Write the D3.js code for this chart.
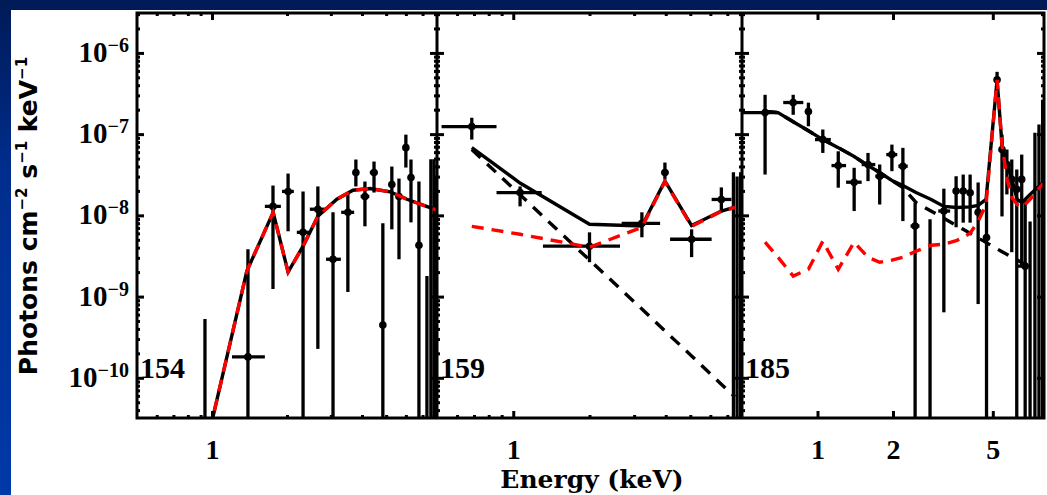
<!DOCTYPE html>
<html>
<head>
<meta charset="utf-8">
<script src="https://cdn.jsdelivr.net/npm/d3@7"></script>
<style>
  body { margin: 0; overflow: hidden; }
</style>
</head>
<body>
<svg width="1047" height="495"></svg>
<script>
// rows: [energy, eLo, eHi, flux, fluxLo, fluxHi]  (null = not drawn, 1e-12 = below the plot)
var spec154 = [
  [0.937, null, null, null, 1e-12, 5.3e-10],
  [1.394, 1.203, 1.63, 1.81e-10, 1e-12, 3.83e-9],
  [1.757, 1.63, 1.89, 1.29e-8, 1.24e-9, 2.33e-8],
  [2.02, 1.91, 2.13, 1.97e-8, 6.37e-9, 3.27e-8],
  [2.32, 2.19, 2.47, 6.18e-9, 1e-12, 1.97e-8],
  [2.66, 2.47, 2.87, 1.19e-8, 2.27e-10, 2.27e-8],
  [3.06, 2.87, 3.29, 2.88e-9, 1e-12, 1.09e-8],
  [3.51, 3.30, 3.72, 1.09e-8, 1.14e-9, 1.91e-8],
  [3.78, 3.70, 3.88, 3.37e-8, 2.27e-8, 4.87e-8],
  [4.11, 3.95, 4.28, 1.71e-8, 7.33e-9, 2.61e-8],
  [4.47, 4.30, 4.62, 3.37e-8, 1.91e-8, 4.6e-8],
  [4.85, null, null, 4.47e-10, 1e-12, 7.98e-9],
  [5.27, 5.12, 5.42, 2.40e-8, 6.73e-9, 3.99e-8],
  [5.63, 5.50, 5.80, 1.71e-8, 2.88e-9, 2.84e-8],
  [6.00, 5.90, 6.12, 6.82e-8, 3.88e-8, 9.86e-8],
  [6.29, 6.15, 6.45, 2.92e-8, 8.2e-9, 4.87e-8],
  [6.77, 6.60, 6.95, 4.28e-9, 1e-12, 2.61e-8],
  [7.29, null, null, null, 1e-12, 1.79e-9],
  [7.56, null, null, null, 1e-12, 4.9e-8],
  [7.78, null, null, null, 1e-12, 4.9e-8],
  [7.95, null, null, null, 1e-12, 3.0e-8]
];

var spec159 = [
  [0.686, 0.521, 0.859, 1.24e-7, 8.57e-8, 1.59e-7],
  [1.064, 0.859, 1.295, 1.91e-8, 1.29e-8, 2.27e-8],
  [2.0, 1.31, 2.64, 4.17e-9, 2.65e-9, 6.18e-9],
  [3.22, 2.68, 3.8, 7.98e-9, 5.37e-9, 1.09e-8],
  [3.97, 3.85, 4.1, 3.37e-8, 2.77e-8, 4.47e-8],
  [5.06, 4.16, 6.07, 5.08e-9, 3.06e-9, 6.73e-9],
  [6.63, 6.07, 7.27, 1.57e-8, 1.09e-8, 2.21e-8],
  [7.4, null, null, null, 1e-12, 3.4e-8],
  [7.65, null, null, null, 1e-12, 3.0e-8],
  [7.9, null, null, null, 1e-12, 3.4e-8]
];

var spec185 = [
  [0.618, 0.5, 0.696, 1.84e-7, 3.18e-8, 3.05e-7],
  [0.80, 0.73, 0.878, 2.45e-7, 1.73e-7, 3.05e-7],
  [0.92, 0.90, 0.94, 1.9e-7, 1.25e-7, 2.44e-7],
  [1.05, 0.977, 1.13, 8.57e-8, 5.87e-8, 1.14e-7],
  [1.21, 1.137, 1.30, 4.1e-8, 2.19e-8, 6.15e-8],
  [1.40, 1.30, 1.50, 2.56e-8, 1.13e-8, 3.85e-8],
  [1.59, 1.50, 1.70, 4.22e-8, 2.64e-8, 5.87e-8],
  [1.77, 1.70, 1.85, 3.03e-8, 1.36e-8, 4.23e-8],
  [1.98, 1.88, 2.08, 5.6e-8, 3.5e-8, 7.43e-8],
  [2.19, 2.10, 2.29, 4.03e-8, 8.5e-9, 6.78e-8],
  [2.45, 2.35, 2.55, 7.39e-9, 1e-12, 1.43e-8],
  [2.81, null, null, null, 1e-12, 8.93e-9],
  [3.19, 3.03, 3.38, 1.13e-8, 6.4e-10, 2.13e-8],
  [3.57, 3.50, 3.64, 1.99e-8, 7.13e-9, 3.03e-8],
  [3.81, 3.74, 3.88, 1.99e-8, 8.13e-9, 3.18e-8],
  [4.06, 3.98, 4.14, 1.9e-8, 8.13e-9, 3.18e-8],
  [4.37, null, null, 1.09e-8, 8.09e-10, 2.54e-8],
  [4.72, 4.62, 4.82, 5.32e-9, 1e-12, 1.5e-8],
  [5.20, 5.12, 5.28, 4.66e-7, 3.2e-7, 5.85e-7],
  [5.44, null, null, 6.46e-8, 9.7e-9, 9.86e-8],
  [5.69, null, null, 4.22e-8, 1.81e-8, 6.46e-8],
  [5.95, null, null, 2.77e-8, 3.52e-9, 4.87e-8],
  [6.23, null, null, 2.09e-8, 1e-12, 3.66e-8],
  [6.52, null, null, 2.77e-8, 2.37e-9, 5.6e-8],
  [6.73, 6.3, 6.9, 2.37e-9, 1e-12, 1.57e-8],
  [7.04, null, null, null, 1e-12, 8.43e-9],
  [7.36, null, null, null, 1e-12, 1.04e-7],
  [7.64, null, null, null, 1e-12, 1.31e-7],
  [7.9, null, null, null, 1e-12, 2.65e-7]
];

// model curves
var model154E = [0.94, 1.38, 1.76, 2.02, 2.32, 2.66, 3.17, 3.68, 4.31, 5.19, 6.06, 7.74, 7.95];
var model154 = [1.3e-11, 2.06e-9, 1.09e-8, 2.0e-9, 4.17e-9, 9.77e-9, 1.58e-8, 2.04e-8, 2.14e-8, 1.95e-8, 1.58e-8, 1.2e-8, 1.17e-8];

var model159E = [0.686, 1.064, 2.0, 3.22, 3.97, 5.06, 6.63, 7.5];
var model159Total = [6.82e-8, 2.5e-8, 7.76e-9, 7.4e-9, 2.65e-8, 7.5e-9, 1.13e-8, 1.26e-8];
var model159Thermal = [7.33e-9, 5.85e-9, 4.05e-9, 7.13e-9, 2.61e-8, 7.33e-9, 1.12e-8, 1.25e-8];
var model159Power = [6.46e-8, 1.79e-8, 2.82e-9, 7.03e-10, 3.78e-10, 1.86e-10, 8.32e-11, 5.85e-11];

var model185E = [0.618, 0.696, 0.80, 0.92, 1.05, 1.21, 1.40, 1.59, 1.77, 1.98, 2.19, 2.47, 2.84, 3.19, 3.60,
  4.06, 4.37, 4.70, 5.20, 5.44, 5.70, 5.96, 6.25, 6.54, 7.04, 7.93];
var model185Total = [1.9e-7, 1.84e-7, 1.42e-7, 1.10e-7, 8.57e-8, 6.82e-8, 5.30e-8, 4.10e-8, 3.37e-8, 2.69e-8, 2.33e-8,
  1.91e-8, 1.57e-8, 1.29e-8, 1.25e-8, 1.27e-8, 1.33e-8, 1.57e-8, 4.66e-7, 7.43e-8, 4.23e-8, 2.77e-8, 1.57e-8,
  1.44e-8, 1.81e-8, 2.54e-8];
var model185Thermal = [4.67e-9, 3.05e-9, 1.79e-9, 2.17e-9, 4.80e-9, 2.17e-9, 4.67e-9, 3.05e-9, 2.65e-9, 2.81e-9,
  3.05e-9, 3.62e-9, 4.29e-9, 4.41e-9, 4.93e-9, 6.01e-9, 8.43e-9, 1.36e-8, 4.66e-7, 7.43e-8, 2.77e-8, 1.66e-8,
  1.36e-8, 1.25e-8, 1.57e-8, 2.47e-8];
var model185PowerE = [0.618, 0.696, 0.80, 0.92, 1.05, 1.21, 1.40, 1.59, 1.77, 1.98, 2.19, 2.47, 3.81, 5.4, 7.04];
var model185Power = [1.9e-7, 1.84e-7, 1.42e-7, 1.10e-7, 8.57e-8, 6.82e-8, 5.30e-8, 4.10e-8, 3.37e-8, 2.69e-8,
  2.2e-8, 1.44e-8, 6.73e-9, 3.62e-9, 2.3e-9];

var panelNames = ["154", "159", "185"];
var xMajor = [[1], [1], [1, 2, 5]];
var xMinor = [[0.6, 0.7, 0.8, 0.9, 2, 3, 4, 5, 6, 7], [0.6, 0.7, 0.8, 0.9, 2, 3, 4, 5, 6, 7], []];
var yDecades = [1e-10, 1e-9, 1e-8, 1e-7, 1e-6];
var yExponents = ["\u221210", "\u22129", "\u22128", "\u22127", "\u22126"];

var svg = d3.select("svg");
var W = 1047, H = 495;
var plotTop = 13, plotBottom = 418;
var bounds = [137, 437, 742, 1044];
var serif = "'Liberation Serif', 'Times New Roman', serif";

// slide background
var grad = svg.append("defs").append("linearGradient")
  .attr("id", "bg").attr("x1", 0).attr("y1", 0).attr("x2", 0).attr("y2", 1);
grad.append("stop").attr("offset", "0").attr("stop-color", "#001a57");
grad.append("stop").attr("offset", "0.35").attr("stop-color", "#002e8e");
grad.append("stop").attr("offset", "1").attr("stop-color", "#0039a8");
svg.append("rect").attr("width", W).attr("height", H).attr("fill", "url(#bg)");
svg.append("rect").attr("x", 11).attr("y", 10).attr("width", W - 11).attr("height", H - 10).attr("fill", "#fff");

var y = d3.scaleLog().domain([3.2e-11, 3.1e-6]).range([plotBottom, plotTop]);

var yMinor = [];
yDecades.concat([1e-11]).forEach(function(d) {
  for (var k = 2; k <= 9; k++) {
    var v = d * k;
    if (v > 3.2e-11 && v < 3.1e-6) yMinor.push(v);
  }
});

var panels = [
  {spec: spec154, total: d3.zip(model154E, model154), thermal: d3.zip(model154E, model154), power: null},
  {spec: spec159, total: d3.zip(model159E, model159Total), thermal: d3.zip(model159E, model159Thermal), power: d3.zip(model159E, model159Power)},
  {spec: spec185, total: d3.zip(model185E, model185Total), thermal: d3.zip(model185E, model185Thermal), power: d3.zip(model185PowerE, model185Power)}
];

function styleAxis(g) {
  g.select(".domain").remove();
  g.selectAll("line").attr("stroke", "#000").attr("stroke-width", 3);
}

panels.forEach(function(p, i) {
  var x0 = bounds[i], x1 = bounds[i + 1];
  var x = d3.scaleLog().domain([0.5, 8]).range([x0, x1]);

  svg.append("clipPath").attr("id", "clip" + i)
    .append("rect").attr("x", x0).attr("y", plotTop).attr("width", x1 - x0).attr("height", plotBottom - plotTop);

  var g = svg.append("g").attr("clip-path", "url(#clip" + i + ")");

  // error bars
  g.selectAll("line.v").data(p.spec).enter().append("line")
    .attr("class", "v")
    .attr("x1", function(d) { return x(d[0]); })
    .attr("x2", function(d) { return x(d[0]); })
    .attr("y1", function(d) { return y(d[5]); })
    .attr("y2", function(d) { return y(d[4]); })
    .attr("stroke", "#000").attr("stroke-width", 3.3);

  g.selectAll("line.h").data(p.spec.filter(function(d) { return d[1] != null && d[3] != null; }))
    .enter().append("line")
    .attr("class", "h")
    .attr("x1", function(d) { return x(d[1]); })
    .attr("x2", function(d) { return x(d[2]); })
    .attr("y1", function(d) { return y(d[3]); })
    .attr("y2", function(d) { return y(d[3]); })
    .attr("stroke", "#000").attr("stroke-width", 3.3);

  g.selectAll("circle").data(p.spec.filter(function(d) { return d[3] != null; }))
    .enter().append("circle")
    .attr("cx", function(d) { return x(d[0]); })
    .attr("cy", function(d) { return y(d[3]); })
    .attr("r", 3.8)
    .attr("fill", "#000");

  var line = d3.line()
    .x(function(d) { return x(d[0]); })
    .y(function(d) { return y(d[1]); });

  g.append("path").attr("d", line(p.total))
    .attr("fill", "none").attr("stroke", "#000").attr("stroke-width", 3.4);
  if (p.power) {
    g.append("path").attr("d", line(p.power))
      .attr("fill", "none").attr("stroke", "#000").attr("stroke-width", 3.4)
      .attr("stroke-dasharray", "12,9");
  }
  g.append("path").attr("d", line(p.thermal))
    .attr("fill", "none").attr("stroke", "#f00").attr("stroke-width", 3.4)
    .attr("stroke-dasharray", "12,8");

  // ticks on all four sides, pointing inward
  svg.append("g").attr("transform", "translate(0," + plotBottom + ")")
    .call(d3.axisBottom(x).tickValues(xMajor[i]).tickSize(-7).tickPadding(21).tickFormat(d3.format("d")))
    .call(styleAxis)
    .call(function(a) {
      a.selectAll("text").attr("font-family", serif).attr("font-weight", "bold")
        .attr("font-size", 28).attr("fill", "#000");
    });
  svg.append("g").attr("transform", "translate(0," + plotBottom + ")")
    .call(d3.axisBottom(x).tickValues(xMinor[i]).tickSize(-3).tickFormat(""))
    .call(styleAxis);
  svg.append("g").attr("transform", "translate(0," + plotTop + ")")
    .call(d3.axisTop(x).tickValues(xMajor[i]).tickSize(-7).tickFormat(""))
    .call(styleAxis);
  svg.append("g").attr("transform", "translate(0," + plotTop + ")")
    .call(d3.axisTop(x).tickValues(xMinor[i]).tickSize(-3).tickFormat(""))
    .call(styleAxis);

  svg.append("g").attr("transform", "translate(" + x0 + ",0)")
    .call(d3.axisLeft(y).tickValues(yDecades).tickSize(-7).tickFormat(""))
    .call(styleAxis);
  svg.append("g").attr("transform", "translate(" + x0 + ",0)")
    .call(d3.axisLeft(y).tickValues(yMinor).tickSize(-3).tickFormat(""))
    .call(styleAxis);
  svg.append("g").attr("transform", "translate(" + x1 + ",0)")
    .call(d3.axisRight(y).tickValues(yDecades).tickSize(-7).tickFormat(""))
    .call(styleAxis);
  svg.append("g").attr("transform", "translate(" + x1 + ",0)")
    .call(d3.axisRight(y).tickValues(yMinor).tickSize(-3).tickFormat(""))
    .call(styleAxis);

  svg.append("text")
    .attr("x", x0 + 3).attr("y", 378)
    .attr("font-family", serif).attr("font-weight", "bold").attr("font-size", 30)
    .attr("fill", "#000")
    .text(panelNames[i]);
});

// frame
svg.append("rect")
  .attr("x", bounds[0]).attr("y", plotTop)
  .attr("width", bounds[3] - bounds[0]).attr("height", plotBottom - plotTop)
  .attr("fill", "none").attr("stroke", "#000").attr("stroke-width", 3);
svg.selectAll("line.divider").data(bounds.slice(1, 3)).enter().append("line")
  .attr("class", "divider")
  .attr("x1", function(d) { return d; }).attr("x2", function(d) { return d; })
  .attr("y1", plotTop).attr("y2", plotBottom)
  .attr("stroke", "#000").attr("stroke-width", 3);

// y tick labels 10^n
var yl = svg.selectAll("text.ylab").data(yDecades).enter().append("text")
  .attr("class", "ylab")
  .attr("x", 129)
  .attr("y", function(d) { return y(d) + 9; })
  .attr("text-anchor", "end")
  .attr("font-family", serif).attr("font-weight", "bold").attr("font-size", 29)
  .attr("fill", "#000");
yl.append("tspan").text("10");
yl.append("tspan").attr("font-size", 20).attr("dy", -10)
  .text(function(d, i) { return yExponents[i]; });

// axis titles
svg.append("text")
  .attr("x", 592).attr("y", 488)
  .attr("text-anchor", "middle")
  .attr("font-family", "'DejaVu Serif', serif").attr("font-weight", "bold").attr("font-size", 25)
  .attr("fill", "#000")
  .text("Energy (keV)");

var yt = svg.append("text")
  .attr("transform", "translate(37,216) rotate(-90)")
  .attr("text-anchor", "middle")
  .attr("font-family", "'DejaVu Sans', sans-serif").attr("font-weight", "bold").attr("font-size", 25)
  .attr("fill", "#000");
yt.append("tspan").text("Photons cm");
yt.append("tspan").attr("font-size", 15).attr("dy", -10).text("\u22122");
yt.append("tspan").attr("dy", 10).text(" s");
yt.append("tspan").attr("font-size", 15).attr("dy", -10).text("\u22121");
yt.append("tspan").attr("dy", 10).text(" keV");
yt.append("tspan").attr("font-size", 15).attr("dy", -10).text("\u22121");
</script>
</body>
</html>
